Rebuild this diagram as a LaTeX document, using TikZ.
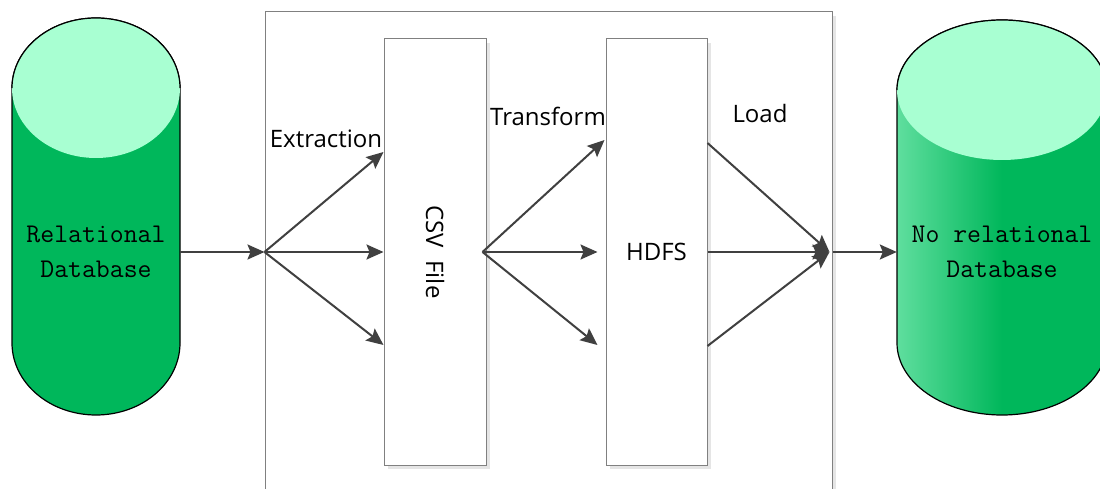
\documentclass[tikz,border=0pt]{standalone}
\usepackage{fontspec}
\setsansfont{Open Sans}
\usetikzlibrary{arrows.meta,positioning,calc,shadows}

\definecolor{dbgreen}{RGB}{0,183,91}
\definecolor{dbtop}{RGB}{168,255,210}
\definecolor{dblight}{RGB}{95,222,158}
\definecolor{arrowgray}{RGB}{64,64,64}
\definecolor{framegray}{RGB}{128,128,128}
\pgfdeclarehorizontalshading{nrbody}{100bp}{color(0bp)=(dblight); color(25bp)=(dblight); color(50bp)=(dbgreen); color(100bp)=(dbgreen)}

\begin{document}
\begin{tikzpicture}[
  x=1pt, y=1pt,
  font=\sffamily\fontsize{24}{29}\selectfont,
  frm/.style={draw=framegray, line width=1pt, fill=white, inner sep=0pt,
              drop shadow={shadow xshift=4pt, shadow yshift=-4pt, fill=black!10, opacity=1}},
  filebox/.style={frm, minimum height=426pt},
  cyl/.style={draw=black, line width=1.2pt},
  dbtxt/.style={font=\ttfamily\fontsize{27}{35}\selectfont, align=center, inner sep=0pt},
  arr/.style={-{Stealth[length=17pt, width=15pt, inset=3pt]}, line width=2pt, draw=arrowgray},
  lab/.style={inner sep=0pt}
]
\useasboundingbox (0,0) rectangle (1100,488);
\clip (0,0) rectangle (1100,488);

% ================= ETL frame =================
\node[frm, minimum width=567pt, minimum height=500pt] (etl) at (548.5,226) {};

% ================= Source database =================
\draw[cyl, fill=dbgreen] (12,400) -- (12,145)
  arc[start angle=180, end angle=360, x radius=84, y radius=72] -- (180,400)
  arc[start angle=0, end angle=180, x radius=84, y radius=70] -- cycle;
\fill[dbtop] (96,400) ellipse [x radius=84, y radius=70];
\draw[cyl] (180,400) arc[start angle=0, end angle=180, x radius=84, y radius=70];
\node[dbtxt, minimum width=168pt] (rdb) at (96,236) {Relational\\Database};

% ================= Target database =================
\draw[cyl, shade, shading=nrbody] (897,398) -- (897,145)
  arc[start angle=180, end angle=360, x radius=105, y radius=72] -- (1107,398)
  arc[start angle=0, end angle=180, x radius=105, y radius=70] -- cycle;
\fill[dbtop] (1002,398) ellipse [x radius=105, y radius=70];
\draw[cyl] (1107,398) arc[start angle=0, end angle=180, x radius=105, y radius=70];
\node[dbtxt, minimum width=210pt] (nrdb) at (1002,236) {No relational\\Database};

% ================= Intermediate stores =================
\node[filebox, minimum width=102pt] (csv) at (435,236) {};
\node[rotate=-90] (csvtxt) at (csv) {CSV\ \ File};
\node[filebox, minimum width=101pt] (hdfs) at (656.5,236) {HDFS};

% ================= Flows =================
\coordinate (fork) at (etl.west |- rdb.east);
\coordinate (join) at ([xshift=-3pt]etl.east |- rdb.east);
\draw[arr] (rdb.east) -- (fork);

\draw[arr] (fork) -- ([yshift=100pt]csv.west);
\draw[arr] (fork) -- (csv.west);
\draw[arr] (fork) -- ([yshift=-93pt]csv.west);

\draw[arr] ([xshift=-4pt]csv.east) -- ([xshift=-1pt, yshift=112pt]hdfs.west);
\draw[arr] ([xshift=-4pt]csv.east) -- ([xshift=-8pt]hdfs.west);
\draw[arr] ([xshift=-4pt]csv.east) -- ([xshift=-8pt, yshift=-93pt]hdfs.west);

\draw[arr] ([yshift=109pt]hdfs.east) -- (join);
\draw[arr] (hdfs.east) -- (join);
\draw[arr] ([yshift=-94pt]hdfs.east) -- (join);
\draw[arr] (etl.east |- fork) -- (nrdb.west);

% ================= Labels =================
\node[lab] (extlab) at (326,349) {Extraction};
\node[lab] (trlab) at (548,372) {Transform};
\node[lab] (loadlab) at (760,374) {Load};

\end{tikzpicture}
\end{document}
